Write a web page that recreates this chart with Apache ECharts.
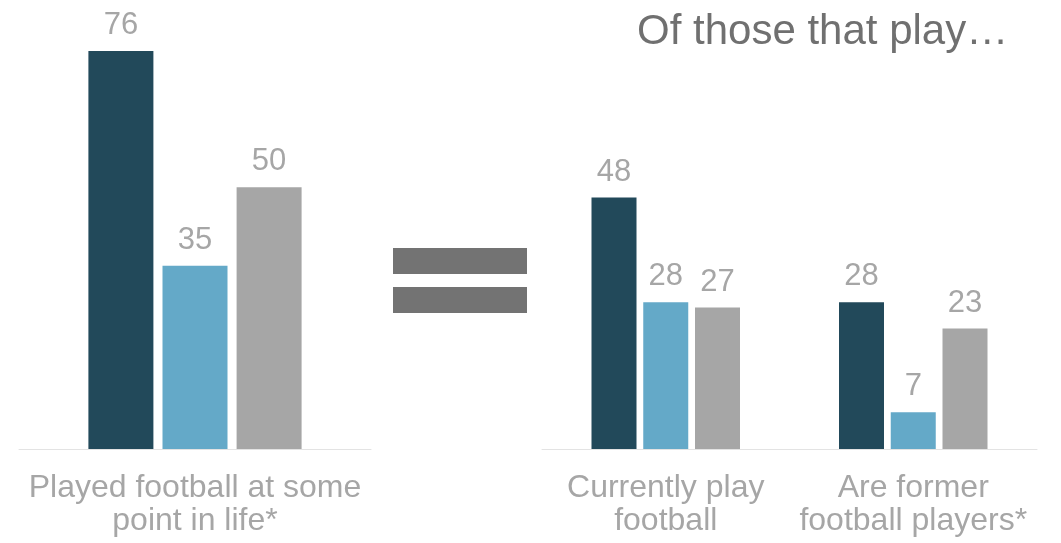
<!DOCTYPE html>
<html>
<head>
<meta charset="utf-8">
<script src="https://cdn.jsdelivr.net/npm/echarts@6/dist/echarts.min.js"></script>
<style>
html,body{margin:0;padding:0;background:#fff;}
#chart{width:1061px;height:543px;}
</style>
</head>
<body>
<div id="chart"></div>
<script>
// ---- data ----
const leftCategories = ['Played football at some\npoint in life*'];
const rightCategories = ['Currently play\nfootball', 'Are former\nfootball players*'];
const leftSeries1 = [76];
const leftSeries2 = [35];
const leftSeries3 = [50];
const rightSeries1 = [48, 28];
const rightSeries2 = [28, 7];
const rightSeries3 = [27, 23];
const titleText = 'Of those that play…';
const colors = ['#22495A', '#64A9C8', '#A6A6A6'];

const FONT = '"Liberation Sans", Arial, sans-serif';
const labelStyle = {show: true, position: 'top', distance: 10, color: '#A6A6A6', fontSize: 31, fontFamily: FONT};

function bar(data, color, axis, width, gap) {
  return {
    type: 'bar', data: data, xAxisIndex: axis, yAxisIndex: axis,
    barWidth: width, barGap: gap,
    itemStyle: {color: color},
    label: labelStyle,
    silent: true
  };
}

const chart = echarts.init(document.getElementById('chart'), null, {renderer: 'canvas'});
const xAxisCommon = {
  type: 'category',
  axisLine: {show: true, lineStyle: {color: '#E3E3E3', width: 1}},
  axisTick: {show: false},
  axisLabel: {color: '#A6A6A6', fontSize: 32, fontFamily: FONT, lineHeight: 33, margin: 23, interval: 0}
};
const yAxisCommon = {type: 'value', min: 0, max: 80, show: false, splitLine: {show: false}};

chart.setOption({
  animation: false,
  title: {
    text: titleText, left: 632, top: 6,
    textStyle: {color: '#707070', fontSize: 42, fontWeight: 'normal', fontFamily: FONT}
  },
  grid: [
    {left: 19, width: 352, top: 30, bottom: 94},
    {left: 542, width: 495, top: 30, bottom: 94}
  ],
  xAxis: [
    Object.assign({}, xAxisCommon, {gridIndex: 0, data: leftCategories}),
    Object.assign({}, xAxisCommon, {gridIndex: 1, data: rightCategories})
  ],
  yAxis: [
    Object.assign({}, yAxisCommon, {gridIndex: 0}),
    Object.assign({}, yAxisCommon, {gridIndex: 1})
  ],
  graphic: [
    {type: 'rect', shape: {x: 393, y: 248, width: 134, height: 26}, style: {fill: '#737373'}},
    {type: 'rect', shape: {x: 393, y: 287, width: 134, height: 26}, style: {fill: '#737373'}}
  ],
  series: [
    bar(leftSeries1, colors[0], 0, 65, '14%'),
    bar(leftSeries2, colors[1], 0, 65, '14%'),
    bar(leftSeries3, colors[2], 0, 65, '14%'),
    bar(rightSeries1, colors[0], 1, 45, '15%'),
    bar(rightSeries2, colors[1], 1, 45, '15%'),
    bar(rightSeries3, colors[2], 1, 45, '15%')
  ]
});
</script>
</body>
</html>
